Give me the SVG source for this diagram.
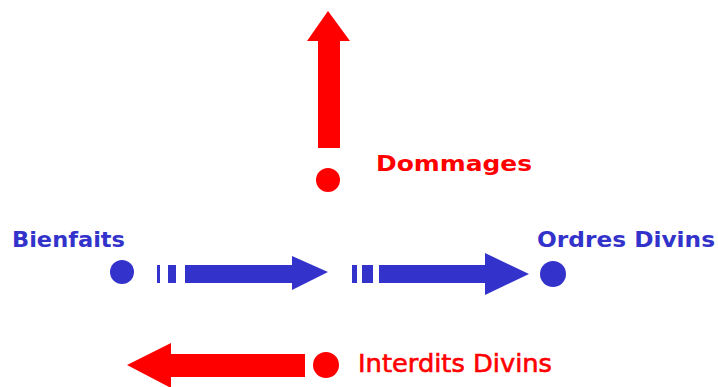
<svg xmlns="http://www.w3.org/2000/svg" width="718" height="387" viewBox="0 0 718 387">
<style>
.b{fill:#3333cc}
.r{fill:#ff0000}
.t{font-family:"DejaVu Sans","Liberation Sans",sans-serif;font-weight:bold;font-size:20.5px}
.n{font-family:"DejaVu Sans","Liberation Sans",sans-serif;font-weight:normal;font-size:24px;stroke:#ff0000;stroke-width:0.6px}
</style>
<rect width="718" height="387" fill="#ffffff"/>
<g id="connectors">
<polygon class="r" points="318,148 340,148 340,41 350,41 328,11 307,41 318,41"/>
<rect class="b" x="157" y="265" width="3" height="18"/>
<rect class="b" x="168" y="265" width="8" height="18"/>
<polygon class="b" points="185,265 292,265 292,256 328,272 292,290 292,283 185,283"/>
<rect class="b" x="352" y="265" width="5" height="18"/>
<rect class="b" x="362" y="265" width="11" height="18"/>
<polygon class="b" points="379,265 485,265 485,253 529,274 485,295 485,283 379,283"/>
<polygon class="r" points="305,354 171,354 171,343 127,365 171,388 171,377 305,377"/>
</g>
<g id="dommages">
<circle class="r" cx="328" cy="180" r="12"/>
<text class="t r" x="376" y="171" textLength="156" lengthAdjust="spacingAndGlyphs">Dommages</text>
</g>
<g id="bienfaits">
<circle class="b" cx="122" cy="272" r="12"/>
<text class="t b" x="12" y="247" textLength="113" lengthAdjust="spacingAndGlyphs">Bienfaits</text>
</g>
<g id="ordres">
<circle class="b" cx="553" cy="274" r="13"/>
<text class="t b" x="537" y="247" textLength="178" lengthAdjust="spacingAndGlyphs">Ordres Divins</text>
</g>
<g id="interdits">
<circle class="r" cx="326" cy="365" r="13"/>
<text class="n r" x="358" y="372" textLength="194" lengthAdjust="spacingAndGlyphs">Interdits Divins</text>
</g>
</svg>
